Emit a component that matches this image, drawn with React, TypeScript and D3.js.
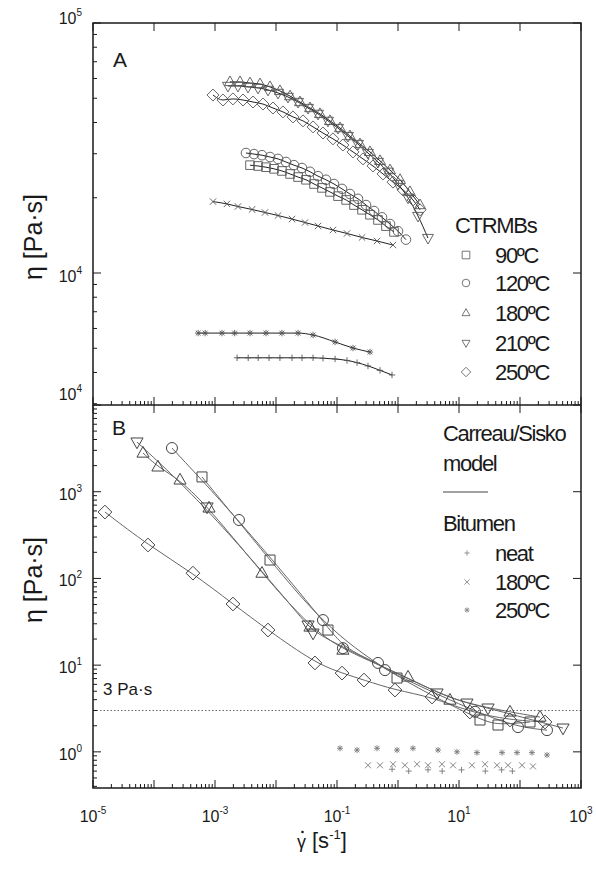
import React from "react";
import * as d3 from "d3";

type Pt = [number, number];

// Panel A - CTRMBs, shear rate [1/s] vs viscosity [Pa·s]
const a90: Pt[] = [[3.75e-3, 27000], [5.07e-3, 26800], [6.85e-3, 26500], [9.27e-3, 26100], [0.0125, 25600], [0.017, 24900], [0.023, 24200], [0.031, 23600], [0.042, 22700], [0.0567, 21900], [0.0767, 21100], [0.104, 20300], [0.141, 19600], [0.19, 18700], [0.257, 17900], [0.347, 17100], [0.47, 16300], [0.635, 15400], [0.859, 14600]];
const a120: Pt[] = [[3.22e-3, 30200], [4.36e-3, 29900], [5.89e-3, 29600], [7.98e-3, 29100], [0.0108, 28600], [0.0146, 27800], [0.0197, 27000], [0.0267, 26300], [0.0361, 25400], [0.0489, 24400], [0.0661, 23600], [0.0893, 22700], [0.121, 21700], [0.163, 20700], [0.221, 19800], [0.299, 18700], [0.405, 17700], [0.547, 16700], [0.74, 15700], [1.0, 14700], [1.35, 13600]];
const a180: Pt[] = [[1.76e-3, 58100], [2.57e-3, 58100], [3.75e-3, 57500], [5.47e-3, 57000], [7.98e-3, 55500], [0.0116, 53500], [0.017, 51000], [0.0247, 48300], [0.0361, 45700], [0.0526, 43300], [0.0767, 40600], [0.112, 38000], [0.163, 35300], [0.238, 32800], [0.347, 30500], [0.507, 28100], [0.74, 25800], [1.08, 23600], [1.57, 21100], [2.3, 18700]];
const a210: Pt[] = [[1.63e-3, 56000], [2.38e-3, 56000], [3.48e-3, 55500], [5.07e-3, 55000], [7.4e-3, 54000], [0.0108, 52500], [0.0157, 50600], [0.023, 48300], [0.0335, 45700], [0.0489, 43300], [0.0711, 40600], [0.104, 38000], [0.151, 35300], [0.221, 32800], [0.322, 30200], [0.47, 27800], [0.686, 25400], [1.0, 22700], [1.46, 20000], [2.13, 16900], [3.1, 13800]];
const a250: Pt[] = [[9.27e-4, 51500], [1.35e-3, 49200], [1.97e-3, 49700], [2.88e-3, 49200], [4.2e-3, 48300], [6.12e-3, 47400], [8.93e-3, 45700], [0.013, 44100], [0.019, 42100], [0.0277, 40600], [0.0405, 38400], [0.0589, 36300], [0.0859, 34400], [0.125, 32500], [0.183, 30500], [0.267, 28600], [0.389, 26800], [0.568, 24900], [0.828, 23100], [1.21, 21500], [1.76, 19600], [2.3, 17900]];
const aCross: Pt[] = [[9.27e-4, 19300], [1.57e-3, 18900], [2.38e-3, 18450], [4.05e-3, 17950], [6.61e-3, 17460], [0.0108, 16980], [0.0183, 16440], [0.0299, 15920], [0.0489, 15420], [0.0859, 14860], [0.146, 14390], [0.257, 13870], [0.453, 13430], [0.828, 12940]];
const aStar: Pt[] = [[5.3e-4, 5750], [6.9e-4, 5750], [1.3e-3, 5750], [2.1e-3, 5750], [3.75e-3, 5750], [6.85e-3, 5750], [0.0125, 5750], [0.023, 5750], [0.0405, 5650], [0.093, 5300], [0.183, 5010], [0.347, 4830]];
const aPlus: Pt[] = [[2.3e-3, 4580], [3.5e-3, 4580], [5.1e-3, 4580], [7.7e-3, 4580], [0.0116, 4580], [0.0183, 4580], [0.0267, 4580], [0.0405, 4580], [0.059, 4560], [0.093, 4530], [0.146, 4470], [0.213, 4380], [0.322, 4250], [0.507, 4080], [0.798, 3910]];

// Panel B - CTRMBs and bitumen
const b90: Pt[] = [[6.12e-4, 1480], [7.98e-3, 163], [0.0711, 25.4], [0.964, 7.1], [22.1, 2.33], [43.6, 2.04], [146, 2.21]];
const b120: Pt[] = [[1.97e-4, 3190], [2.47e-3, 472], [0.0589, 33.1], [0.125, 15.7], [0.47, 10.6], [0.612, 8.77], [18.3, 2.9], [92.7, 1.93], [277, 1.78]];
const b180: Pt[] = [[6.61e-5, 2790], [1.16e-4, 1930], [2.67e-4, 1365], [7.98e-4, 649], [5.89e-3, 115], [0.0361, 27.5], [0.125, 14.9], [1.46, 7.29], [7.11, 3.95], [68.5, 2.88], [213, 2.52]];
const b210: Pt[] = [[5.26e-5, 3740], [7.4e-4, 666], [0.0335, 29], [0.0405, 23.4], [4.36, 4.77], [13.5, 3.65], [29.9, 3.2], [507, 1.88]];
const b250: Pt[] = [[1.57e-5, 583], [7.98e-5, 243], [4.35e-4, 115], [1.97e-3, 50.7], [7.4e-3, 25.4], [0.0435, 10.6], [0.121, 8.1], [0.277, 6.73], [0.893, 5.16], [3.61, 4.29], [15.1, 2.88], [68.5, 2.33], [257, 2.21]];
const bNeat: Pt[] = [[0.8, 0.63], [1.5, 0.6], [3.1, 0.62], [5.3, 0.6], [11, 0.62], [27, 0.6], [50, 0.62], [75, 0.6]];
const b180bit: Pt[] = [[0.322, 0.7], [0.507, 0.7], [0.828, 0.72], [1.3, 0.7], [2.05, 0.72], [3.1, 0.7], [5.26, 0.72], [7.98, 0.7], [16.3, 0.7], [26.7, 0.72], [42, 0.7], [63.5, 0.7], [108, 0.7], [163, 0.68]];
const b250bit: Pt[] = [[0.112, 1.1], [0.213, 1.05], [0.453, 1.1], [0.964, 1.05], [1.76, 1.1], [4.53, 1.05], [9.27, 1.0], [19.7, 0.98], [50.7, 0.98], [89.3, 0.98], [157, 0.98], [277, 0.92]];

const xLabelExp = [-5, -3, -1, 1, 3];
const yALabelExp = [4, 5];
const yBLabelExp = [0, 1, 2, 3, 4];
const ctrmbNames = ["90ºC", "120ºC", "180ºC", "210ºC", "250ºC"];
const bitumenNames = ["neat", "180ºC", "250ºC"];

const FONT = "'Liberation Sans', Arial, sans-serif";

function symPath(type: string, r: number): string {
  switch (type) {
    case "square":
      return `M${-r},${-r}h${2 * r}v${2 * r}h${-2 * r}Z`;
    case "circle":
      return `M${r},0A${r},${r} 0 1,1 ${-r},0A${r},${r} 0 1,1 ${r},0Z`;
    case "up":
      return `M0,${-r * 1.15}L${r * 1.05},${r * 0.7}L${-r * 1.05},${r * 0.7}Z`;
    case "down":
      return `M0,${r * 1.15}L${r * 1.05},${-r * 0.7}L${-r * 1.05},${-r * 0.7}Z`;
    case "diamond":
      return `M0,${-r * 1.25}L${r * 1.25},0L0,${r * 1.25}L${-r * 1.25},0Z`;
    case "plus":
      return `M${-r},0H${r}M0,${-r}V${r}`;
    case "cross":
      return `M${-r},${-r}L${r},${r}M${-r},${r}L${r},${-r}`;
    default: // asterisk
      return `M${-r},0H${r}M0,${-r}V${r}M${-r * 0.75},${-r * 0.75}L${r * 0.75},${r * 0.75}M${-r * 0.75},${r * 0.75}L${r * 0.75},${-r * 0.75}`;
  }
}

const isMajor = (v: number) => Math.abs(Math.log10(v) - Math.round(Math.log10(v))) < 1e-6;

export default function App() {
  const W = 596, H = 877;
  const left = 93, right = 581, top = 23, mid = 405, bottom = 788;

  const x = d3.scaleLog().domain([1e-5, 1e3]).range([left, right]);
  const yA = d3.scaleLog().domain([2965, 1e5]).range([mid, top]);
  const yB = d3.scaleLog().domain([0.383, 1e4]).range([bottom, mid]);

  const lineA = d3.line<Pt>().x(d => x(d[0])).y(d => yA(d[1])).curve(d3.curveMonotoneX);
  const lineB = d3.line<Pt>().x(d => x(d[0])).y(d => yB(d[1])).curve(d3.curveBasis);

  const seriesA = [
    { d: a90, s: "square", r: 4.3 },
    { d: a120, s: "circle", r: 4.8 },
    { d: a180, s: "up", r: 5.2 },
    { d: a210, s: "down", r: 5.2 },
    { d: a250, s: "diamond", r: 4.8 },
    { d: aCross, s: "cross", r: 3.2 },
    { d: aStar, s: "star", r: 3.2 },
    { d: aPlus, s: "plus", r: 3.2 },
  ];
  const seriesB = [
    { d: b90, s: "square", r: 5 },
    { d: b120, s: "circle", r: 5.5 },
    { d: b180, s: "up", r: 5.8 },
    { d: b210, s: "down", r: 5.8 },
    { d: b250, s: "diamond", r: 5.5 },
  ];
  const bitB = [
    { d: bNeat, s: "plus", r: 3 },
    { d: b180bit, s: "cross", r: 3 },
    { d: b250bit, s: "star", r: 3 },
  ];

  const xt = x.ticks();
  const yAt = yA.ticks();
  const yBt = yB.ticks();
  const ink = "#1a1a1a";

  return (
    <svg width={W} height={H} style={{ position: "absolute", left: 0, top: 0, background: "#fff" }} fontFamily={FONT}>
      <rect x={0} y={0} width={W} height={H} fill="#fff" />

      {/* dotted 3 Pa·s reference */}
      <line x1={left} x2={right} y1={yB(3)} y2={yB(3)} stroke="#666" strokeWidth={1} strokeDasharray="1.5,2" />
      <text x={103} y={695} fontSize={17} fill={ink}>3 Pa·s</text>

      {/* panel A curves */}
      {seriesA.map((s, i) => (
        <path key={"la" + i} d={lineA(s.d) || ""} fill="none" stroke="#222" strokeWidth={1} />
      ))}
      {seriesA.map((s, i) => s.d.map((p, j) => (
        <path key={`ma${i}-${j}`} d={symPath(s.s, s.r)} transform={`translate(${x(p[0])},${yA(p[1])})`}
          fill="none" stroke="#555" strokeWidth={0.9} />
      )))}

      {/* panel B model curves */}
      {seriesB.map((s, i) => (
        <path key={"lb" + i} d={lineB(s.d) || ""} fill="none" stroke="#666" strokeWidth={1} />
      ))}
      {seriesB.map((s, i) => s.d.map((p, j) => (
        <path key={`mb${i}-${j}`} d={symPath(s.s, s.r)} transform={`translate(${x(p[0])},${yB(p[1])})`}
          fill="none" stroke="#444" strokeWidth={1} />
      )))}
      {bitB.map((s, i) => s.d.map((p, j) => (
        <path key={`bb${i}-${j}`} d={symPath(s.s, s.r)} transform={`translate(${x(p[0])},${yB(p[1])})`}
          fill="none" stroke="#777" strokeWidth={0.9} />
      )))}

      {/* frame */}
      <rect x={left} y={top} width={right - left} height={bottom - top} fill="none" stroke={ink} strokeWidth={1.5} />
      <line x1={left} x2={right} y1={mid} y2={mid} stroke={ink} strokeWidth={1.5} />

      {/* x ticks */}
      {xt.map((t, i) => {
        const m = isMajor(t);
        const px = x(t);
        return (
          <g key={"xt" + i} stroke={ink} strokeWidth={1}>
            <line x1={px} x2={px} y1={bottom} y2={bottom - (m ? 8 : 4)} />
            <line x1={px} x2={px} y1={mid} y2={mid - (m ? 8 : 4)} />
            {m && <line x1={px} x2={px} y1={mid} y2={mid + 8} />}
            {m && <line x1={px} x2={px} y1={top} y2={top + 8} />}
          </g>
        );
      })}

      {/* y ticks */}
      {yAt.map((t, i) => {
        const m = isMajor(t);
        const py = yA(t);
        return (
          <g key={"ya" + i} stroke={ink} strokeWidth={1}>
            <line x1={left} x2={left + (m ? 8 : 4)} y1={py} y2={py} />
            {m && <line x1={right} x2={right - 8} y1={py} y2={py} />}
          </g>
        );
      })}
      {yBt.map((t, i) => {
        const m = isMajor(t);
        const py = yB(t);
        return (
          <g key={"yb" + i} stroke={ink} strokeWidth={1}>
            <line x1={left} x2={left + (m ? 8 : 4)} y1={py} y2={py} />
            {m && <line x1={right} x2={right - 8} y1={py} y2={py} />}
          </g>
        );
      })}

      {/* tick labels */}
      {xLabelExp.map(e => (
        <text key={"xl" + e} x={x(Math.pow(10, e))} y={822} textAnchor="middle" fontSize={16} fill={ink}>
          10<tspan dy={-8} fontSize={10}>{e}</tspan>
        </text>
      ))}
      {yALabelExp.map(e => (
        <text key={"yal" + e} x={82} y={yA(Math.pow(10, e)) + (e === 5 ? 1 : 9)} textAnchor="end" fontSize={16} fill={ink}>
          10<tspan dy={-8} fontSize={10}>{e}</tspan>
        </text>
      ))}
      {yBLabelExp.map(e => (
        <text key={"ybl" + e} x={82} y={yB(Math.pow(10, e)) + (e === 4 ? -5 : 8)} textAnchor="end" fontSize={16} fill={ink}>
          10<tspan dy={-8} fontSize={10}>{e}</tspan>
        </text>
      ))}

      {/* axis titles */}
      <text transform="translate(42,237) rotate(-90)" textAnchor="middle" fontSize={25} fill={ink}>η  [Pa·s]</text>
      <text transform="translate(42,580) rotate(-90)" textAnchor="middle" fontSize={25} fill={ink}>η  [Pa·s]</text>
      <circle cx={302.5} cy={832} r={1.3} fill={ink} />
      <text x={297} y={848} fontSize={22} fill={ink}>
        <tspan fontSize={18}>γ</tspan>
        <tspan dx={6}>[s</tspan>
        <tspan dy={-9} fontSize={13}>-1</tspan>
        <tspan dy={9}>]</tspan>
      </text>

      {/* panel letters */}
      <text x={113} y={67} fontSize={21} fill={ink}>A</text>
      <text x={112} y={435} fontSize={21} fill={ink}>B</text>

      {/* legend A */}
      <text x={455} y={233} fontSize={22} letterSpacing={-1.3} fill={ink}>CTRMBs</text>
      {ctrmbNames.map((n, i) => {
        const cy = [255, 283, 313, 343, 372][i];
        const s = ["square", "circle", "up", "down", "diamond"][i];
        return (
          <g key={"lgA" + i}>
            <path d={symPath(s, 3.8)} transform={`translate(466,${cy})`} fill="none" stroke="#666" strokeWidth={0.9} />
            <text x={495} y={cy + 8} fontSize={22} letterSpacing={-1.3} fill={ink}>{n}</text>
          </g>
        );
      })}

      {/* legend B */}
      <text x={443} y={441} fontSize={22} letterSpacing={-1.3} fill={ink}>Carreau/Sisko</text>
      <text x={443} y={471} fontSize={22} letterSpacing={-1.3} fill={ink}>model</text>
      <line x1={443} x2={488} y1={492} y2={492} stroke="#444" strokeWidth={1} />
      <text x={443} y={531} fontSize={22} letterSpacing={-1.3} fill={ink}>Bitumen</text>
      {bitumenNames.map((n, i) => {
        const cy = [553, 582, 610][i];
        const s = ["plus", "cross", "star"][i];
        return (
          <g key={"lgB" + i}>
            <path d={symPath(s, 2.6)} transform={`translate(467,${cy})`} fill="none" stroke="#888" strokeWidth={0.9} />
            <text x={495} y={cy + 8} fontSize={22} letterSpacing={-1.3} fill={ink}>{n}</text>
          </g>
        );
      })}
    </svg>
  );
}
